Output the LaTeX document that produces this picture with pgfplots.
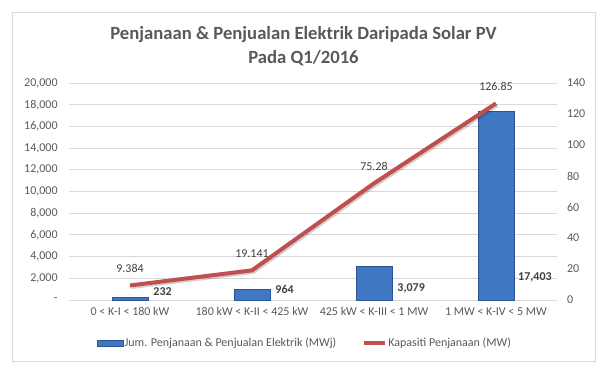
\documentclass[border=0pt]{standalone}
\usepackage{pgfplots}
\pgfplotsset{compat=1.18}
\usepackage{fontspec}
\setmainfont{Carlito}
\definecolor{txt}{HTML}{595959}
\definecolor{lbl}{HTML}{404040}
\definecolor{gridc}{HTML}{D9D9D9}
\definecolor{lred}{HTML}{C0504D}
\definecolor{barc}{HTML}{3F77C2}
\definecolor{bard}{HTML}{2B5590}
\begin{document}
\begin{tikzpicture}
\path[use as bounding box] (0,0) rectangle (455.25pt,282pt);
\draw[gridc, line width=0.75pt] (9pt,11.25pt) rectangle (446.25pt,273pt);
\node[anchor=base, font=\fontsize{14}{16}\selectfont\bfseries, text=txt] at (227.6pt,252.75pt) {Penjanaan \& Penjualan Elektrik Daripada Solar PV};
\node[anchor=base, font=\fontsize{14}{16}\selectfont\bfseries, text=txt] at (227.6pt,234.75pt) {Pada Q1/2016};
\begin{axis}[
  at={(51.75pt,57pt)}, anchor=south west, scale only axis,
  width=366pt, height=162.75pt,
  xmin=-0.5, xmax=3.5, ymin=0, ymax=20000,
  axis line style={draw=none}, major tick length=0pt,
  ymajorgrids, grid style={gridc, line width=0.75pt},
  xtick={0,1,2,3},
  xticklabels={{0 < K-I < 180 kW},{180 kW < K-II < 425 kW},{425 kW < K-III < 1 MW},{1 MW < K-IV < 5 MW}},
  ytick={0,2000,...,20000},
  yticklabels={{-},{2,000},{4,000},{6,000},{8,000},{10,000},{12,000},{14,000},{16,000},{18,000},{20,000}},
  scaled y ticks=false,
  tick label style={font=\fontsize{9}{11}\selectfont, text=txt},
  /pgf/number format/assume math mode=true,
  yticklabel style={xshift=-5pt},
  xticklabel style={yshift=-2pt},
  clip=false,
]
\addplot[ybar, bar width=27pt, bar shift=0pt, draw=bard, line width=0.5pt, fill=barc]
  coordinates {(0,232) (1,964) (2,3079) (3,17403)};
\node[anchor=west, font=\fontsize{9}{11}\selectfont\bfseries, text=lbl, inner sep=0pt] at (axis cs:0.19,737) {232};
\node[anchor=west, font=\fontsize{9}{11}\selectfont\bfseries, text=lbl, inner sep=0pt] at (axis cs:1.19,1014) {964};
\node[anchor=west, font=\fontsize{9}{11}\selectfont\bfseries, text=lbl, inner sep=0pt] at (axis cs:2.19,1106) {3,079};
\node[anchor=west, font=\fontsize{9}{11}\selectfont\bfseries, text=lbl, inner sep=0pt] at (axis cs:3.18,2120) {17,403};
\end{axis}
\begin{axis}[
  at={(51.75pt,57pt)}, anchor=south west, scale only axis,
  width=366pt, height=162.75pt,
  xmin=-0.5, xmax=3.5, ymin=0, ymax=140,
  axis y line*=right, hide x axis,
  axis line style={draw=none}, major tick length=0pt,
  ytick={0,20,...,140},
  tick label style={font=\fontsize{9}{11}\selectfont, text=txt},
  /pgf/number format/assume math mode=true,
  yticklabel style={xshift=4pt},
  clip=false,
  legend style={at={(0.4826,-0.198)}, anchor=center, draw=none, fill=none,
    legend columns=2, font=\fontsize{9}{11}\selectfont, text=txt,
    /tikz/every even column/.append style={column sep=18pt},
    nodes={inner sep=1pt}},
  legend cell align=left,
]
\addlegendimage{legend image code/.code={\fill[barc, draw=bard, line width=0.4pt] (0pt,-2.25pt) rectangle (19.5pt,2.25pt);}}
\addlegendentry{Jum. Penjanaan \& Penjualan Elektrik (MWj)}
\addplot[black, opacity=0.18, line width=3pt, forget plot, shift={(1pt,-1.2pt)}]
  coordinates {(0,9.384) (1,19.141) (2,75.28) (3,126.85)};
\addplot[lred, line width=3pt, legend image code/.code={\draw[lred, line width=3pt] (0pt,0pt) -- (16pt,0pt);}]
  coordinates {(0,9.384) (1,19.141) (2,75.28) (3,126.85)};
\addlegendentry{Kapasiti Penjanaan (MW)}
\node[font=\fontsize{9}{11}\selectfont, text=lbl, yshift=12.75pt] at (axis cs:0,9.384) {9.384};
\node[font=\fontsize{9}{11}\selectfont, text=lbl, yshift=12.75pt] at (axis cs:1,19.141) {19.141};
\node[font=\fontsize{9}{11}\selectfont, text=lbl, yshift=12.75pt] at (axis cs:2,75.28) {75.28};
\node[font=\fontsize{9}{11}\selectfont, text=lbl, yshift=12.75pt] at (axis cs:3,126.85) {126.85};
\end{axis}
\end{tikzpicture}
\end{document}
